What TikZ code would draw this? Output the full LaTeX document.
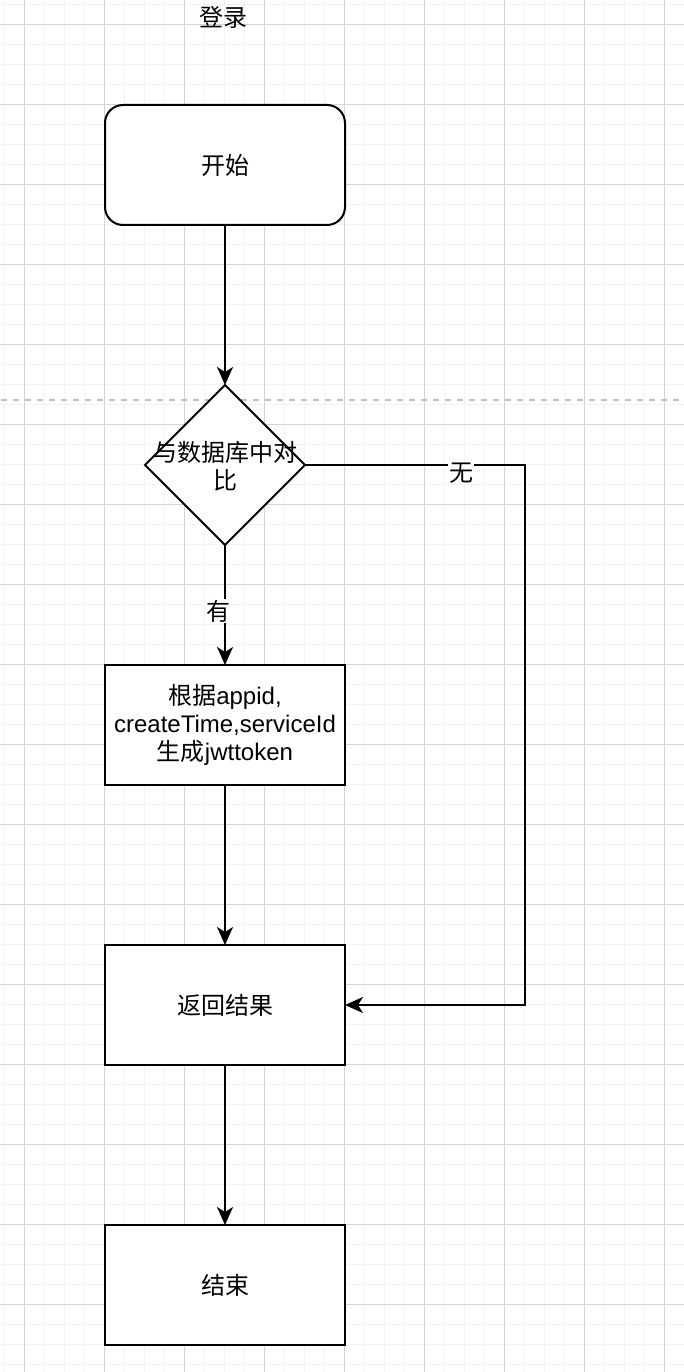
\documentclass[tikz,border=0pt]{standalone}
\usepackage{fontspec}
\setmainfont{Liberation Sans}
\newfontfamily\cjk{Noto Sans CJK SC}
\usetikzlibrary{shapes.geometric,arrows.meta}
\definecolor{gridminor}{HTML}{F2F2F2}
\definecolor{gridmajor}{HTML}{D4D4D4}
\definecolor{sepline}{HTML}{C0C0C0}

\begin{document}
\begin{tikzpicture}[x=1pt,y=-1pt,
  txt/.style={font=\fontsize{24}{28}\selectfont, align=center},
  flowbox/.style={txt, draw=black, line width=2pt, fill=white,
    minimum width=240pt, minimum height=120pt, inner sep=0pt, outer sep=0pt},
  startbox/.style={flowbox, rounded corners=18pt},
  decision/.style={diamond, draw=black, line width=2pt, fill=white,
    minimum width=160pt, minimum height=160pt, inner sep=0pt, outer sep=0pt},
  conn/.style={line width=2pt, draw=black,
    -{Stealth[length=18pt, width=16pt, inset=5pt]}},
  edgelabel/.style={txt, fill=white, inner sep=1pt}
]
\useasboundingbox (0,0) rectangle (684,1372);
\fill[white] (0,0) rectangle (684,1372);

% background grid: fine lines every 20, heavier lines every 80
\foreach \k in {0,...,34}
  \draw[gridminor, line width=1pt] (4.5+20*\k,0) -- (4.5+20*\k,1372);
\foreach \k in {0,...,68}
  \draw[gridminor, line width=1pt] (0,4.5+20*\k) -- (684,4.5+20*\k);
\foreach \k in {0,...,8}
  \draw[gridmajor, line width=1pt] (24.5+80*\k,0) -- (24.5+80*\k,1372);
\foreach \k in {0,...,17}
  \draw[gridmajor, line width=1pt] (0,24.5+80*\k) -- (684,24.5+80*\k);

% page separator
\draw[sepline, line width=2pt, dash pattern=on 6pt off 6pt, dash phase=-1pt]
  (0,400) -- (684,400);

% title
\node[txt] (title) at (223,17) {\cjk 登录};

% flow nodes
\node[startbox] (start) at (225,165) {\cjk 开始};
\node[decision] (cmp) at (225,465) {};
\node[txt] (cmptext) at (225,466) {{\cjk 与数据库中对}\\{\cjk 比}};
\node[flowbox] (gen) at (225,725)
  {{\cjk 根据}appid,\\createTime,serviceId\\{\cjk 生成}jwttoken};
\node[flowbox] (ret) at (225,1005) {\cjk 返回结果};
\node[flowbox] (finish) at (225,1285) {\cjk 结束};

% bend points of the "no" branch
\coordinate (noturn) at (525,465);
\coordinate (nodown) at (525,1005);

% connectors
\draw[conn] (start.south) -- (cmp.north);
\draw[conn] (cmp.south) -- node[edgelabel, pos=0.55, xshift=-7pt] (yeslbl) {\cjk 有} (gen.north);
\draw[conn] (cmp.east) -- node[edgelabel, pos=0.71, yshift=-8pt] (nolbl) {\cjk 无} (noturn) -- (nodown) -- (ret.east);
\draw[conn] (gen.south) -- (ret.north);
\draw[conn] (ret.south) -- (finish.north);
\end{tikzpicture}
\end{document}
